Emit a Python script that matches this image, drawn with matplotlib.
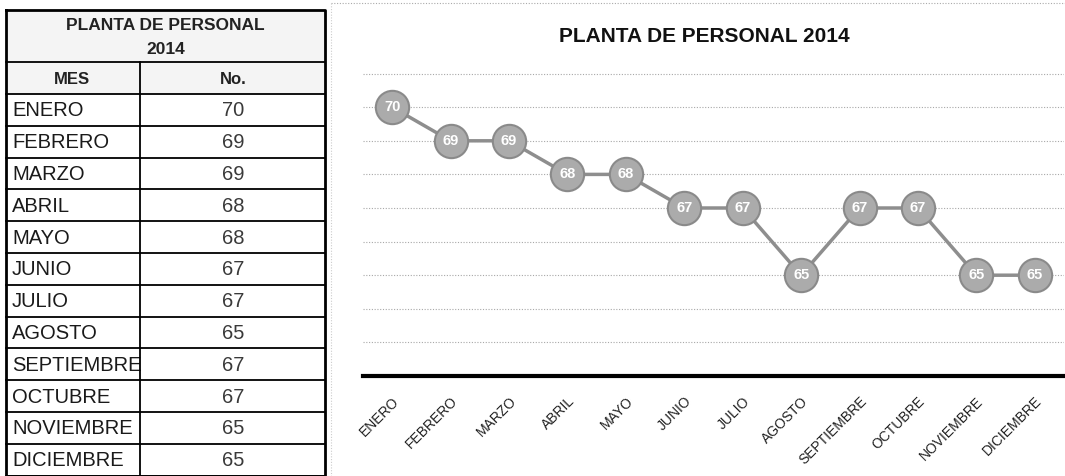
import matplotlib.pyplot as plt
from matplotlib.patches import Rectangle

plt.rcParams['font.family'] = ['Liberation Sans', 'DejaVu Sans']
plt.rcParams['hatch.color'] = '#c4c4c4'
plt.rcParams['hatch.linewidth'] = 0.6

# data
meses = ['ENERO', 'FEBRERO', 'MARZO', 'ABRIL', 'MAYO', 'JUNIO', 'JULIO',
         'AGOSTO', 'SEPTIEMBRE', 'OCTUBRE', 'NOVIEMBRE', 'DICIEMBRE']
planta = [70, 69, 69, 68, 68, 67, 67, 65, 67, 67, 65, 65]
titulo = 'PLANTA DE PERSONAL 2014'

W, H = 1065, 476
fig = plt.figure(figsize=(W / 100, H / 100), dpi=100)
fig.patch.set_facecolor('white')

# overlay in pixel coords for the table and the chart border
tab = fig.add_axes([0, 0, 1, 1])
tab.set_xlim(0, W)
tab.set_ylim(H, 0)
tab.axis('off')

x0, x1, xm = 6, 325, 140
y_title, y_head, row_h = 10, 62, 31.8
y_rows = 94

# shaded title + header blocks
tab.add_patch(Rectangle((x0, y_title), x1 - x0, y_rows - y_title,
                        facecolor='#f4f4f4', edgecolor='none', hatch='....', lw=0, zorder=1))
tab.text((x0 + x1) / 2, 26, 'PLANTA DE PERSONAL', ha='center', va='center',
         fontsize=12.5, fontweight='bold', color='#222222', zorder=3)
tab.text((x0 + x1) / 2, 50, '2014', ha='center', va='center',
         fontsize=12.5, fontweight='bold', color='#222222', zorder=3)
tab.text(72, 79, 'MES', ha='center', va='center',
         fontsize=12, fontweight='bold', color='#222222', zorder=3)
tab.text(233, 79, 'No.', ha='center', va='center',
         fontsize=12, fontweight='bold', color='#222222', zorder=3)

clip = Rectangle((x0, 0), xm - x0 - 1, H, transform=tab.transData, visible=False)
tab.add_patch(clip)
for i, (m, v) in enumerate(zip(meses, planta)):
    yc = y_rows + row_h * i + row_h / 2
    t = tab.text(x0 + 6, yc + 1, m, ha='left', va='center', fontsize=14.5,
                 color='#1a1a1a', zorder=3)
    t.set_clip_path(clip)
    tab.text(233, yc + 1, str(v), ha='center', va='center', fontsize=14.5,
             color='#3a3a3a', zorder=3)

# table lines
for i in range(13):
    y = y_rows + row_h * i
    tab.plot([x0, x1], [y, y], color='black', lw=1.3, zorder=4)
tab.plot([x0, x1], [y_head, y_head], color='black', lw=1.3, zorder=4)
tab.plot([xm, xm], [y_head, H], color='black', lw=1.3, zorder=4)
tab.plot([x0, x1, x1, x0, x0], [y_title, y_title, H, H, y_title],
         color='black', lw=2, zorder=4)

# chart border (dotted)
tab.plot([331, W], [3, 3], color='#aaaaaa', lw=0.8, ls=(0, (1, 1.5)))
tab.plot([331, 331], [3, H], color='#cccccc', lw=0.8, ls=(0, (1, 1.5)))

# line chart
ax = fig.add_axes([363 / W, 1 - 376 / H, (1064 - 363) / W, 336 / H])
ax.set_facecolor('none')
xs = range(len(meses))
ax.plot(xs, planta, color='#8e8e8e', lw=2.5, marker='o', markersize=24,
        markerfacecolor='#ababab', markeredgecolor='#8a8a8a', markeredgewidth=1.5,
        zorder=3)
for x, v in zip(xs, planta):
    ax.text(x, v, str(v), ha='center', va='center', fontsize=10.5,
            fontweight='bold', color='white', zorder=4)

ax.set_xlim(-0.5, len(meses) - 0.5)
ax.set_ylim(62, 72)
ax.set_yticks(range(63, 72))
ax.yaxis.grid(True, color='#a8a8a8', lw=0.8, ls=(0, (1, 1.5)))
ax.tick_params(axis='y', left=False, labelleft=False)
ax.tick_params(axis='x', length=0, pad=13)
ax.set_xticks(list(xs))
ax.set_xticklabels(meses, rotation=45, ha='right', rotation_mode='anchor',
                   fontsize=10, color='#222222')
for s in ['top', 'right', 'left']:
    ax.spines[s].set_visible(False)
ax.spines['bottom'].set_linewidth(3)
ax.spines['bottom'].set_color('black')

fig.text(704 / W, 1 - 36 / H, titulo, ha='center', va='center',
         fontsize=15, fontweight='bold', color='#111111')

fig.savefig('out.png', dpi=100)
